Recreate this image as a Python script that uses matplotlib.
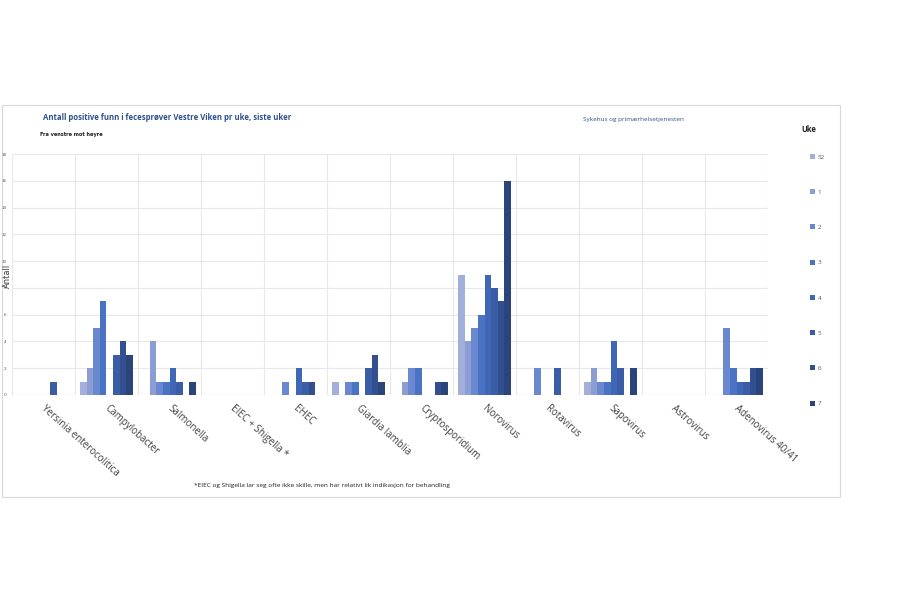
import matplotlib
matplotlib.use("Agg")
import matplotlib.pyplot as plt
from matplotlib.patches import Rectangle
import numpy as np

categories = ["Yersinia enterocolitica", "Campylobacter", "Salmonella", "EIEC + Shigella *",
              "EHEC", "Giardia lamblia", "Cryptosporidium", "Norovirus", "Rotavirus",
              "Sapovirus", "Astrovirus", "Adenovirus 40/41"]
weeks = ["52", "1", "2", "3", "4", "5", "6", "7"]
# values per pathogen, one per week (52, 1..7)
yersinia = [0, 0, 0, 0, 0, 1, 0, 0]
campylobacter = [1, 2, 5, 7, 0, 3, 4, 3]
salmonella = [0, 4, 1, 1, 2, 1, 0, 1]
eiec_shigella = [0, 0, 0, 0, 0, 0, 0, 0]
ehec = [0, 0, 1, 0, 2, 1, 1, 0]
giardia = [1, 0, 1, 1, 0, 2, 3, 1]
cryptosporidium = [0, 1, 2, 2, 0, 0, 1, 1]
norovirus = [9, 4, 5, 6, 9, 8, 7, 16]
rotavirus = [0, 0, 2, 0, 0, 2, 0, 0]
sapovirus = [1, 2, 1, 1, 4, 2, 0, 2]
astrovirus = [0, 0, 0, 0, 0, 0, 0, 0]
adenovirus = [0, 0, 5, 2, 1, 1, 2, 2]
yticks = [0, 2, 4, 6, 8, 10, 12, 14, 16, 18]

colors = ["#A3AEDB", "#8B9DD3", "#6A88CF", "#4A73C4", "#3F67B5", "#3A5DA5", "#324F8F", "#2B4479"]

data = np.array([yersinia, campylobacter, salmonella, eiec_shigella, ehec, giardia,
                 cryptosporidium, norovirus, rotavirus, sapovirus, astrovirus, adenovirus])

fig = plt.figure(figsize=(9, 6), dpi=100)
fig.patches.append(Rectangle((2/900, 1-497/600), 838/900, 392/600, transform=fig.transFigure,
                             facecolor="none", edgecolor="#D9D9D9", linewidth=0.8, zorder=-5))
ax = fig.add_axes([12/900, 1-395/600, 756/900, 241/600])
ax.set_facecolor("none")

n = len(weeks)
group = 0.83
w = group / n
x = np.arange(len(categories))
handles = []
for i, wk in enumerate(weeks):
    b = ax.bar(x - group/2 + w*(i+0.5), data[:, i], width=w, color=colors[i], label=wk, zorder=3)
    handles.append(b)

ax.set_xlim(-0.5, len(categories)-0.5)
ax.set_ylim(0, 18)
ax.set_yticks(yticks)
ax.set_yticklabels([str(t) for t in yticks], fontsize=3, color="#595959")
ax.tick_params(axis="y", length=0, pad=4)
ax.set_xticks(x)
ax.set_xticklabels([])
ax.tick_params(axis="x", length=0)
for xi, lab in zip(x, categories):
    ax.text(xi + 0.05, -0.6, lab, rotation=-42, rotation_mode="anchor", ha="left", va="top",
            fontsize=7, color="#404040", family="Open Sans")
ax.set_xticks(np.arange(len(categories)+1) - 0.5, minor=True)
ax.tick_params(axis="x", which="minor", length=0)
ax.grid(axis="x", which="minor", color="#E8E8E8", linewidth=0.8, zorder=0)
ax.grid(axis="y", which="major", color="#E8E8E8", linewidth=0.8, zorder=0)
for s in ax.spines.values():
    s.set_visible(False)
ax.axhline(0, color="#D9D9D9", linewidth=0.8, zorder=2)

fig.text(7/900, 1-276/600, "Antall", rotation=90, fontsize=6, ha="center", va="center", color="#404040")

fig.text(43/900, 1-118/600, "Antall positive funn i fecesprøver Vestre Viken pr uke, siste uker",
         fontsize=5.6, fontweight="bold", color="#2F4F8F", ha="left", va="center", family="Open Sans")
fig.text(40/900, 1-134/600, "Fra venstre mot høyre", fontsize=3.6, fontweight="bold",
         color="#202020", ha="left", va="center")
fig.text(633/900, 1-120/600, "Sykehus og primærhelsetjenesten", fontsize=4.6, color="#2F4F8F",
         ha="center", va="center", family="Open Sans")
fig.text(809/900, 1-130/600, "Uke", fontsize=5.5, fontweight="bold", color="#202020",
         ha="center", va="center", family="Open Sans")
fig.text(322/900, 1-486/600,
         "*EIEC og Shigella lar seg ofte ikke skille, men har relativt lik indikasjon for behandling",
         fontsize=4.65, color="#202020", ha="center", va="center", family="Open Sans")

leg = fig.legend(handles=handles, labels=weeks, loc="upper left", bbox_to_anchor=(810/900, 1-154/600),
                 frameon=False, prop={"size": 4.5, "family": "Open Sans"}, handlelength=0.8,
                 handleheight=0.8, handletextpad=0.4, labelspacing=4.75, borderaxespad=0, borderpad=0)
for t in leg.get_texts():
    t.set_color("#595959")

fig.savefig("out.png", dpi=100, facecolor="white")
